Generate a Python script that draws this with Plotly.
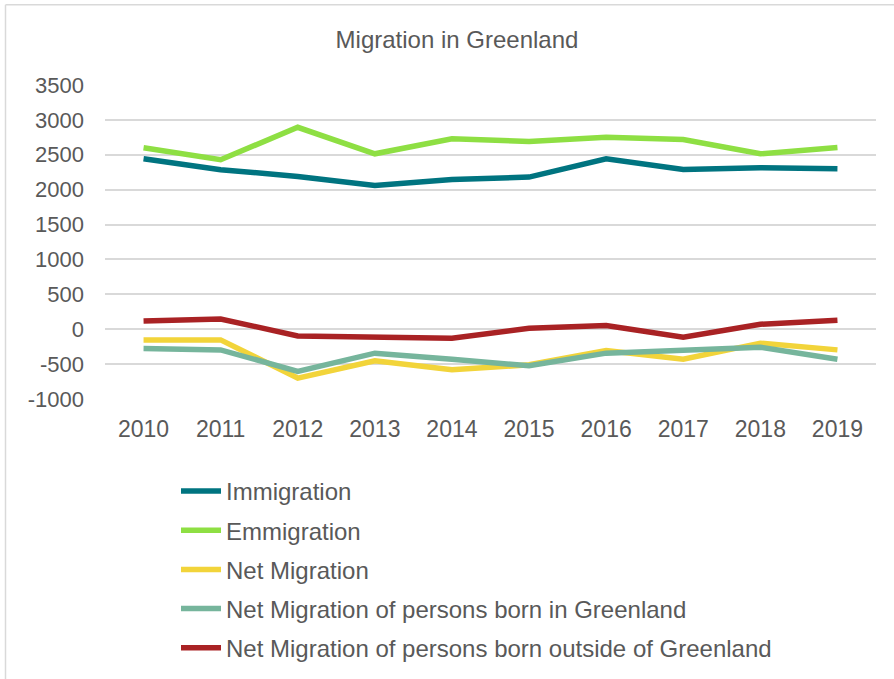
import plotly.graph_objects as go

years = ["2010", "2011", "2012", "2013", "2014", "2015", "2016", "2017", "2018", "2019"]
immigration = [2443, 2286, 2190, 2061, 2147, 2180, 2443, 2290, 2314, 2300]
emmigration = [2600, 2429, 2894, 2514, 2729, 2690, 2751, 2719, 2514, 2604]
net_migration = [-153, -153, -700, -453, -581, -510, -305, -429, -200, -296]
net_born_in = [-277, -296, -605, -343, -429, -524, -343, -305, -257, -429]
net_born_outside = [119, 147, -96, -105, -129, 14, 52, -114, 71, 129]

y_tick_values = [-1000, -500, 0, 500, 1000, 1500, 2000, 2500, 3000, 3500]
y_tick_labels = ["-1000", "-500", "0", "500", "1000", "1500", "2000", "2500", "3000", "3500"]

series = [
    ("Immigration", immigration, "#007480"),
    ("Emmigration", emmigration, "#8EDF43"),
    ("Net Migration", net_migration, "#F2D43A"),
    ("Net Migration of persons born in Greenland", net_born_in, "#76B59C"),
    ("Net Migration of persons born outside of Greenland", net_born_outside, "#A92224"),
]

W, H = 894, 679
L, R, T, B = 105, 18, 84.5, 280
pw, ph = W - L - R, H - T - B

def px_x(x):
    return (x - L) / pw

def px_y(y):
    return (H - B - y) / ph

fig = go.Figure()
for i, (name, vals, col) in enumerate(series):
    fig.add_trace(go.Scatter(
        x=years, y=vals, name=name, mode="lines",
        line=dict(color=col, width=5.5),
        legendgroup=f"g{i}",
    ))

font = "Liberation Sans, Arial, sans-serif"
txt = "#595959"

fig.update_layout(
    width=W, height=H,
    margin=dict(l=L, r=R, t=T, b=B, autoexpand=False),
    paper_bgcolor="white", plot_bgcolor="white",
    font=dict(family=font, color=txt, size=22),
    title=dict(text="Migration in Greenland", x=457 / W, xref="container",
               y=1 - 40 / H, yref="container", xanchor="center", yanchor="middle",
               font=dict(size=24, color=txt, family=font)),
    xaxis=dict(type="category", range=[-0.5, len(years) - 0.5],
               showgrid=False, showline=False, zeroline=False, ticks="",
               tickfont=dict(size=23, color=txt), ticklabelstandoff=14),
    yaxis=dict(range=[-1000, 3500], tickmode="array", tickvals=y_tick_values,
               ticktext=y_tick_labels, showgrid=True,
               gridcolor="#D9D9D9", gridwidth=1.5, zeroline=False, showline=False,
               ticks="", tickfont=dict(size=22, color=txt), ticklabelstandoff=20),
    legend=dict(orientation="v", x=px_x(176), xanchor="left", y=px_y(469), yanchor="top",
                font=dict(size=24, color=txt), tracegroupgap=5,
                itemwidth=40, bgcolor="rgba(0,0,0,0)"),
    showlegend=True,
    shapes=[
        dict(type="line", xref="paper", yref="paper", x0=px_x(5.5), x1=px_x(5.5),
             y0=px_y(4), y1=px_y(H + 5), line=dict(color="#D9D9D9", width=1.5)),
        dict(type="line", xref="paper", yref="paper", x0=px_x(5.5), x1=px_x(W + 5),
             y0=px_y(4), y1=px_y(4), line=dict(color="#D9D9D9", width=1.5)),
    ],
)

fig.write_html("out.html", config={"displayModeBar": False},
               post_script="document.body.style.margin='0';")
